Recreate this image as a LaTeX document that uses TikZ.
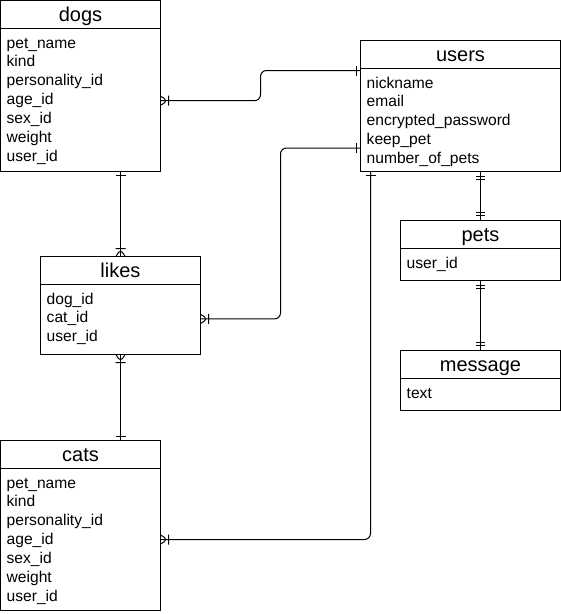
\documentclass[tikz,border=0pt]{standalone}
\usepackage{fontspec}
\setmainfont{Liberation Sans}
\usetikzlibrary{positioning,calc,decorations.markings}

\tikzset{
  tblhead/.style={draw, line width=1pt, outer sep=0pt, inner sep=0pt,
    minimum width=#1, minimum height=28pt, text height=14pt, text depth=0pt,
    font=\fontsize{20}{24}\selectfont},
  tblbody/.style={draw, line width=1pt, outer sep=0pt, inner sep=0pt,
    minimum width=160pt, minimum height=#1},
  field/.style={anchor=west, inner sep=0pt, text height=11pt, text depth=3pt,
    font=\fontsize{15.6}{18}\selectfont},
  conn/.style={draw, line width=1pt, rounded corners=6pt},
  % marks near the ends of a connector
  one start/.style={postaction={decorate, decoration={markings,
    mark=at position 4pt with {\draw[line width=1pt] (0,-5pt) -- (0,5pt);}}}},
  one end/.style={postaction={decorate, decoration={markings,
    mark=at position -4pt with {\draw[line width=1pt] (0,-5pt) -- (0,5pt);}}}},
  only start/.style={postaction={decorate, decoration={markings,
    mark=at position 5pt with {\draw[line width=1pt] (0,-4.5pt) -- (0,4.5pt) (2.7pt,-4.5pt) -- (2.7pt,4.5pt);}}}},
  only end/.style={postaction={decorate, decoration={markings,
    mark=at position -5pt with {\draw[line width=1pt] (0,-4.5pt) -- (0,4.5pt) (-2.7pt,-4.5pt) -- (-2.7pt,4.5pt);}}}},
  many start/.style={postaction={decorate, decoration={markings,
    mark=at position 8pt with {\draw[line width=1pt] (0,-5pt) -- (0,5pt)
      (-8pt,4.5pt) -- (0,0) -- (-8pt,-4.5pt);}}}},
  many end/.style={postaction={decorate, decoration={markings,
    mark=at position -8pt with {\draw[line width=1pt] (0,-5pt) -- (0,5pt)
      (8pt,4.5pt) -- (0,0) -- (8pt,-4.5pt);}}}}
}

\begin{document}
\begin{tikzpicture}[x=1pt, y=-1pt]
  \useasboundingbox (-0.5,-0.5) rectangle (560.5,613.5);

  % dogs
  \node[tblhead=160pt] (dogs) at (80,14) {dogs};
  \node[tblbody=143pt, below=0pt of dogs] (dogsbody) {};
  \foreach \f [count=\i from 0] in {pet\_name,kind,personality\_id,age\_id,sex\_id,weight,user\_id}
    \node[field] (dogs-\i) at ($(dogsbody.north west)+(6,15.5+18.9*\i)$) {\f};

  % users
  \node[tblhead=200pt] (users) at (460,54) {users};
  \node[tblbody=103pt, minimum width=200pt, below=0pt of users] (usersbody) {};
  \foreach \f [count=\i from 0] in {nickname,email,encrypted\_password,keep\_pet,number\_of\_pets}
    \node[field] (users-\i) at ($(usersbody.north west)+(6,15.5+18.9*\i)$) {\f};

  % pets
  \node[tblhead=160pt] (pets) at (480,234) {pets};
  \node[tblbody=32pt, below=0pt of pets] (petsbody) {};
  \node[field] (pets-0) at ($(petsbody.north west)+(6,16)$) {user\_id};

  % message
  \node[tblhead=160pt] (message) at (480,364) {message};
  \node[tblbody=32pt, below=0pt of message] (messagebody) {};
  \node[field] (message-0) at ($(messagebody.north west)+(6,15.5)$) {text};

  % likes
  \node[tblhead=160pt] (likes) at (120,270) {likes};
  \node[tblbody=70pt, below=0pt of likes] (likesbody) {};
  \foreach \f [count=\i from 0] in {dog\_id,cat\_id,user\_id}
    \node[field] (likes-\i) at ($(likesbody.north west)+(6,15.5+18.9*\i)$) {\f};

  % cats
  \node[tblhead=160pt] (cats) at (80,454) {cats};
  \node[tblbody=142pt, below=0pt of cats] (catsbody) {};
  \foreach \f [count=\i from 0] in {pet\_name,kind,personality\_id,age\_id,sex\_id,weight,user\_id}
    \node[field] (cats-\i) at ($(catsbody.north west)+(6,15.5+18.9*\i)$) {\f};

  % relations
  \draw[conn, many start, one end] (dogsbody.east |- dogs-3) -- ++(100,0)
    |- ($(usersbody.north west)+(0,2)$);
  \draw[conn, one start, many end] (likes.north |- dogsbody.south) -- (likes.north);
  \draw[conn, many start, one end] (likesbody.east |- likes-1) -- ++(80,0)
    |- ($(usersbody.west)+(0,28)$);
  \draw[conn, one start, many end] ($(usersbody.south west)+(10,0)$) |- (catsbody.east);
  \draw[conn, many start, one end] (likesbody.south) -- (likesbody.south |- cats.north);
  \draw[conn, only start, only end] (pets.north |- usersbody.south) -- (pets.north);
  \draw[conn, only start, only end] (petsbody.south) -- (message.north);
\end{tikzpicture}
\end{document}
